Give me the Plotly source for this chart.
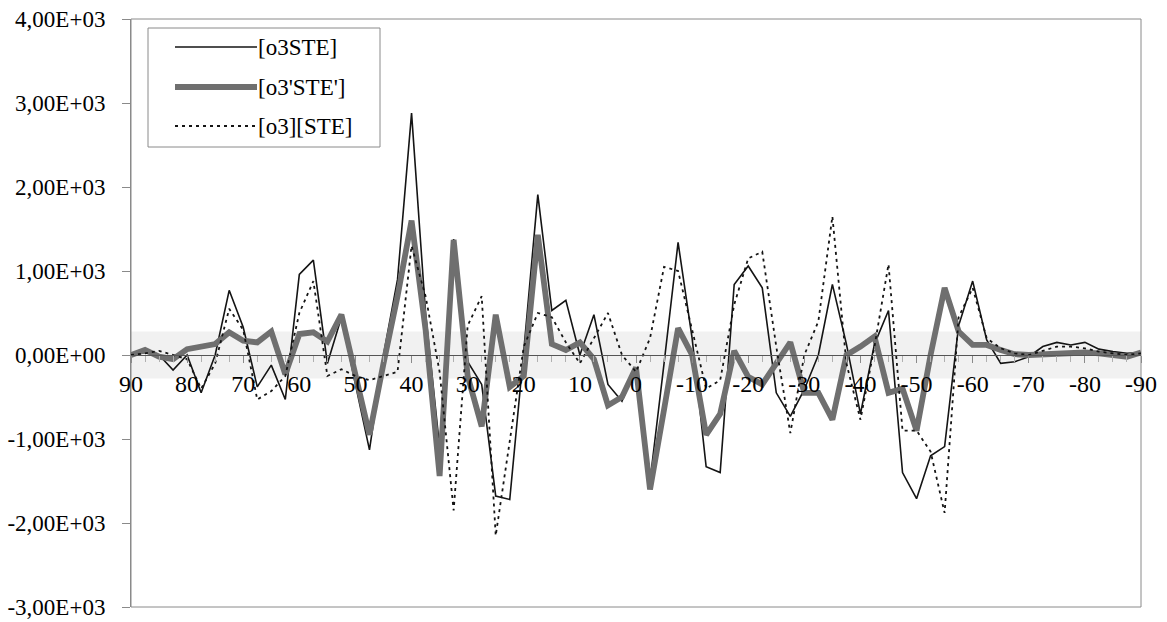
import plotly.graph_objects as go

# ---------------- data ----------------
latitude = [90, 87.5, 85, 82.5, 80, 77.5, 75, 72.5, 70, 67.5, 65, 62.5, 60, 57.5, 55, 52.5,
            50, 47.5, 45, 42.5, 40, 37.5, 35, 32.5, 30, 27.5, 25, 22.5, 20, 17.5, 15, 12.5,
            10, 7.5, 5, 2.5, 0, -2.5, -5, -7.5, -10, -12.5, -15, -17.5, -20, -22.5, -25, -27.5,
            -30, -32.5, -35, -37.5, -40, -42.5, -45, -47.5, -50, -52.5, -55, -57.5, -60, -62.5,
            -65, -67.5, -70, -72.5, -75, -77.5, -80, -82.5, -85, -87.5, -90]

o3STE = [0, 30, 0, -180, 0, -450, 0, 770, 330, -380, -120, -530, 960, 1130, -100, 450,
         -350, -1130, 0, 900, 2880, 500, -1100, 1380, -80, -350, -1680, -1720, 50, 1910, 530, 650,
         0, 480, -350, -550, -150, -1500, -100, 1340, 200, -1330, -1400, 840, 1060, 800, -450, -730,
         -410, 0, 840, 130, -700, 130, 530, -1400, -1710, -1200, -1090, 350, 880, 180,
         -100, -80, -20, 100, 150, 120, 150, 70, 40, 20, 30]

o3pSTEp = [0, 60, -20, -50, 70, 100, 130, 270, 170, 150, 280, -230, 250, 270, 160, 480,
           -250, -950, -100, 700, 1600, 300, -1440, 1370, -250, -850, 480, -380, -250, 1430, 130, 60,
           150, -50, -600, -500, -150, -1600, -650, 320, 0, -950, -700, 50, -260, -350, -100, 150,
           -450, -450, -770, 0, 100, 220, -450, -400, -900, 0, 800, 280, 120, 120,
           60, 10, 0, 10, 20, 30, 30, 20, 0, -20, 30]

o3_STE = [0, 20, 50, 0, -50, -400, -100, 550, 300, -530, -430, -250, 500, 880, -250, -170,
          -250, -300, -250, -200, 1300, 700, -200, -1850, 350, 700, -2150, -1050, 100, 500, 450, 150,
          -100, 200, 500, 0, -200, 200, 1050, 1000, 300, -400, -300, 600, 1150, 1230, 100, -930,
          0, 400, 1650, -100, -770, 100, 1080, -900, -900, -1150, -1880, 450, 800, 200,
          80, 20, 0, 50, 100, 100, 80, 40, 20, 0, 20]

series_names = ["[o3STE]", "[o3'STE']", "[o3][STE]"]

y_tick_values = [4000, 3000, 2000, 1000, 0, -1000, -2000, -3000]
y_tick_labels = ["4,00E+03", "3,00E+03", "2,00E+03", "1,00E+03", "0,00E+00",
                 "-1,00E+03", "-2,00E+03", "-3,00E+03"]
x_tick_values = [90, 80, 70, 60, 50, 40, 30, 20, 10, 0, -10, -20, -30, -40, -50, -60, -70, -80, -90]
x_tick_labels = [str(v) for v in x_tick_values]

assert len(latitude) == len(o3STE) == len(o3pSTEp) == len(o3_STE)

# ---------------- styles ----------------
FONT = "Liberation Serif"
styles = [
    dict(color="#141414", width=1.6, dash="solid"),
    dict(color="#6f6f6f", width=5.8, dash="solid"),
    dict(color="#141414", width=1.8, dash="3px,4px"),
]
series_values = [o3STE, o3pSTEp, o3_STE]

fig = go.Figure()
for name, vals, st in zip(series_names, series_values, styles):
    fig.add_trace(go.Scatter(
        x=latitude, y=vals, name=name, mode="lines",
        line=dict(color=st["color"], width=st["width"], dash=st["dash"]),
        showlegend=False,
    ))

ymin, ymax = -3000, 4000
zero_pos = (0 - ymin) / (ymax - ymin)

MT, MB, ML, MR = 19, 15, 131, 26
W, H = 1167, 622

axis_grey = "#8a8a8a"
fig.update_layout(
    width=W, height=H,
    margin=dict(l=ML, r=MR, t=MT, b=MB, autoexpand=False),
    paper_bgcolor="white", plot_bgcolor="white",
    font=dict(family=FONT, size=23, color="black"),
    xaxis=dict(
        range=[90, -90], anchor="free", position=zero_pos, automargin=False,
        tickmode="array", tickvals=x_tick_values, ticktext=x_tick_labels,
        showline=True, linecolor="#555555", linewidth=1,
        ticks="outside", ticklen=7, tickcolor=axis_grey, tickwidth=1,
        minor=dict(dtick=2.5, tick0=0, ticks="outside", ticklen=6, tickcolor="#b0b0b0"),
        showgrid=False, zeroline=False,
        tickfont=dict(family=FONT, size=24, color="black"),
    ),
    xaxis2=dict(
        range=[90, -90], anchor="free", position=zero_pos, overlaying="x", automargin=False,
        tickmode="array", tickvals=x_tick_values, showticklabels=False,
        showline=False, ticks="inside", ticklen=7, tickcolor=axis_grey,
        minor=dict(dtick=2.5, tick0=0, ticks="inside", ticklen=6, tickcolor="#b0b0b0"),
        showgrid=False, zeroline=False,
    ),
    yaxis=dict(
        range=[ymin, ymax], tickmode="array", tickvals=y_tick_values, ticktext=y_tick_labels,
        showline=True, linecolor=axis_grey, linewidth=1, automargin=False,
        ticks="outside", ticklen=8, tickcolor=axis_grey,
        ticklabelstandoff=12, ticklabeloverflow="allow",
        showgrid=False, zeroline=False,
        tickfont=dict(family=FONT, size=23, color="black"),
    ),
    yaxis2=dict(
        range=[ymin, ymax], overlaying="y", anchor="x", side="left", automargin=False,
        tickmode="array", tickvals=y_tick_values, showticklabels=False,
        ticks="inside", ticklen=8, tickcolor=axis_grey,
        showline=False, showgrid=False, zeroline=False,
    ),
)

# light scanned-grey band around the zero line and plot frame
shapes = [
    dict(type="rect", xref="paper", yref="y", x0=0, x1=1, y0=-280, y1=280,
         fillcolor="#f1f1f1", line=dict(width=0), layer="below"),
    dict(type="rect", xref="paper", yref="paper", x0=0, x1=1, y0=0, y1=1,
         line=dict(color=axis_grey, width=1), layer="below"),
]

# legend box drawn in paper coordinates
plot_l, plot_w = ML, W - ML - MR
plot_b, plot_h = H - MB, H - MT - MB
def px(xp):
    return (xp - plot_l) / plot_w
def py(yp):
    return (plot_b - yp) / plot_h

shapes.append(dict(type="rect", xref="paper", yref="paper",
                   x0=px(148), x1=px(380), y0=py(147), y1=py(28),
                   fillcolor="white", line=dict(color="#8a8a8a", width=1), layer="above"))
annotations = []
legend_rows = [47, 87, 126]
for name, st, row in zip(series_names, styles, legend_rows):
    shapes.append(dict(type="line", xref="paper", yref="paper",
                       x0=px(175), x1=px(257), y0=py(row), y1=py(row),
                       line=dict(color=st["color"], width=st["width"], dash=st["dash"]),
                       layer="above"))
    annotations.append(dict(xref="paper", yref="paper", x=px(256), y=py(row),
                            text=name, showarrow=False, xanchor="left", yanchor="middle",
                            font=dict(family=FONT, size=23, color="black")))

fig.update_layout(shapes=shapes, annotations=annotations)

fig.write_html("out.html")
